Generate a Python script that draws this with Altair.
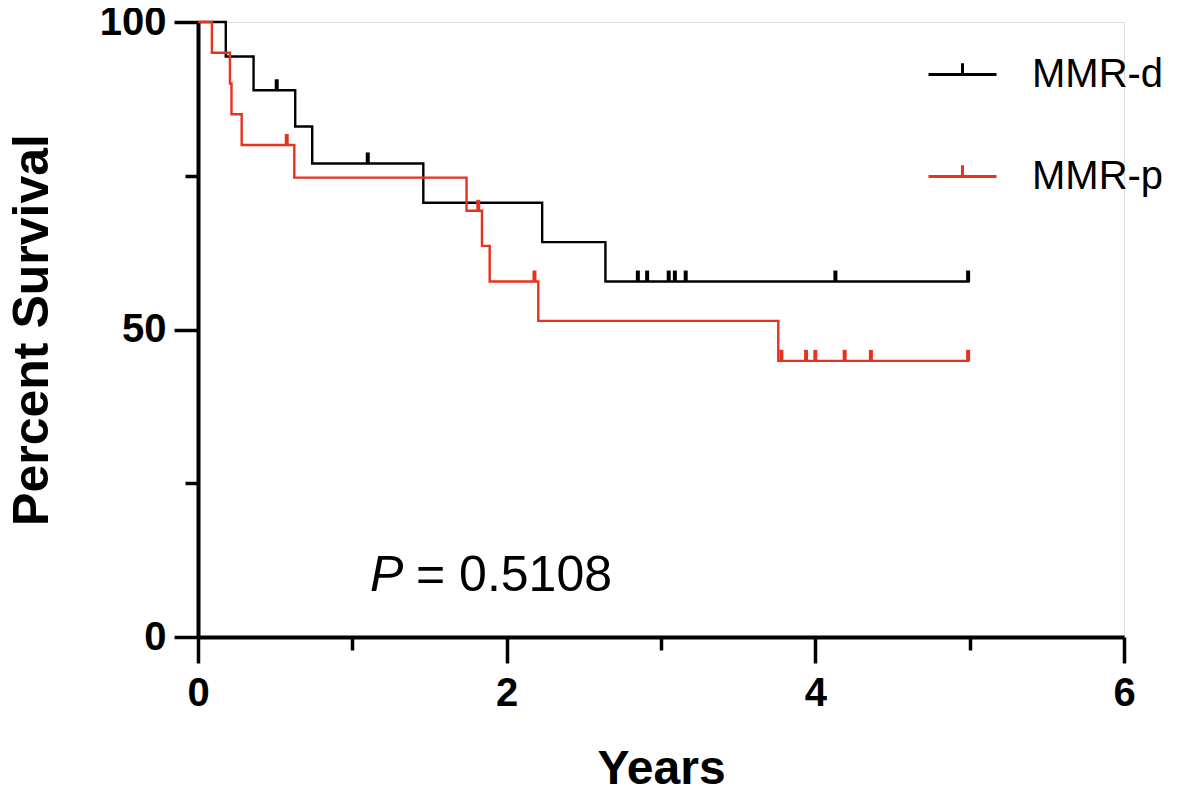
import altair as alt
import pandas as pd

# ---- data ----
groups = ["MMR-d", "MMR-p"]

d_time = [0.0, 0.18, 0.36, 0.63, 0.74, 1.46, 2.23, 2.64, 5.0]
d_surv = [100.0, 94.4, 88.9, 83.0, 77.0, 70.6, 64.2, 57.8, 57.8]
d_cens_time = [0.51, 1.10, 2.85, 2.91, 3.05, 3.09, 3.16, 4.13, 4.99]
d_cens_surv = [88.9, 77.0, 57.8, 57.8, 57.8, 57.8, 57.8, 57.8, 57.8]

p_time = [0.0, 0.09, 0.207, 0.217, 0.283, 0.624, 1.74, 1.84, 1.89, 2.205, 3.76, 5.0]
p_surv = [100.0, 95.0, 90.0, 85.0, 80.0, 74.7, 69.3, 63.6, 57.8, 51.4, 44.9, 44.9]
p_cens_time = [0.575, 1.816, 2.18, 3.78, 3.94, 4.00, 4.19, 4.36, 4.99]
p_cens_surv = [80.0, 69.3, 57.8, 44.9, 44.9, 44.9, 44.9, 44.9, 44.9]

x_ticks = [0, 1, 2, 3, 4, 5, 6]
y_ticks = [0, 25, 50, 75, 100]
p_label = "P"
p_value = "= 0.5108"

colors = ["#000000", "#E5331D"]

curves = pd.DataFrame(
    {"t": d_time + p_time,
     "s": d_surv + p_surv,
     "g": [groups[0]] * len(d_time) + [groups[1]] * len(p_time)}
)
cens = pd.DataFrame(
    {"t": d_cens_time + p_cens_time,
     "s": d_cens_surv + p_cens_surv,
     "g": [groups[0]] * len(d_cens_time) + [groups[1]] * len(p_cens_time)}
)

FONT = "Liberation Sans"

xscale = alt.Scale(domain=[0, 6], nice=False, zero=False)
yscale = alt.Scale(domain=[0, 100], nice=False, zero=False)
cscale = alt.Scale(domain=groups, range=colors)

xaxis = alt.Axis(
    values=x_ticks,
    title="Years",
    format="d",
    labelExpr="datum.value % 2 === 0 ? datum.label : ''",
    tickSize=alt.condition("datum.value % 2 === 0", alt.value(26), alt.value(13)),
    labelPadding=10,
    labelFontSize=40,
    labelFontWeight="bold",
    labelFont=FONT,
    labelColor="black",
    titleFontSize=48,
    titleFontWeight="bold",
    titleFont=FONT,
    titleColor="black",
    titlePadding=32,
    domainWidth=4,
    domainColor="black",
    tickWidth=3.5,
    tickColor="black",
    grid=False,
    labelFlush=False,
)
yaxis = alt.Axis(
    values=y_ticks,
    title="Percent Survival",
    format="d",
    labelExpr="datum.value % 50 === 0 ? datum.label : ''",
    tickSize=alt.condition("datum.value % 50 === 0", alt.value(24), alt.value(13)),
    labelPadding=8,
    labelFontSize=40,
    labelFontWeight="bold",
    labelFont=FONT,
    labelColor="black",
    titleFontSize=50,
    titleFontWeight="bold",
    titleFont=FONT,
    titleColor="black",
    titlePadding=42,
    domainWidth=4,
    domainColor="black",
    tickWidth=3.5,
    tickColor="black",
    grid=False,
    labelFlush=False,
)

lines = alt.Chart(curves).mark_line(interpolate="step-after", strokeWidth=2.4).encode(
    x=alt.X("t:Q", scale=xscale, axis=xaxis),
    y=alt.Y("s:Q", scale=yscale, axis=yaxis),
    color=alt.Color(
        "g:N",
        scale=cscale,
        legend=alt.Legend(
            title=None,
            orient="none",
            legendX=729,
            legendY=17,
            symbolType="M-1,0H1M0,0V-0.33",
            symbolSize=4624,
            symbolStrokeWidth=3,
            labelFontSize=40,
            labelFont=FONT,
            labelColor="black",
            labelOffset=34,
            rowPadding=46,
            padding=0,
        ),
    ),
    order="t:Q",
)

ticks = alt.Chart(cens).mark_rule(strokeWidth=4, y2Offset=-11).encode(
    x=alt.X("t:Q", scale=xscale),
    y=alt.Y("s:Q", scale=yscale),
    y2="s:Q",
    color=alt.Color("g:N", scale=cscale, legend=None),
)

ptxt = pd.DataFrame({"a": [p_label], "b": [p_value]})
p1 = alt.Chart(ptxt).mark_text(
    font=FONT, fontSize=50, fontStyle="italic", align="left", baseline="alphabetic", color="black"
).encode(text="a:N", x=alt.value(172), y=alt.value(569))
p2 = alt.Chart(ptxt).mark_text(
    font=FONT, fontSize=50, align="left", baseline="alphabetic", color="black"
).encode(text="b:N", x=alt.value(218), y=alt.value(569))

chart = alt.layer(lines, ticks, p1, p2).properties(
    width=926,
    height=615,
    autosize=alt.AutoSizeParams(type="none"),
    padding={"left": 190, "top": 14, "right": 68, "bottom": 155},
).configure_view(stroke=None).configure(background="white")

chart.save("out.html", embed_options={"renderer": "svg", "actions": False})
